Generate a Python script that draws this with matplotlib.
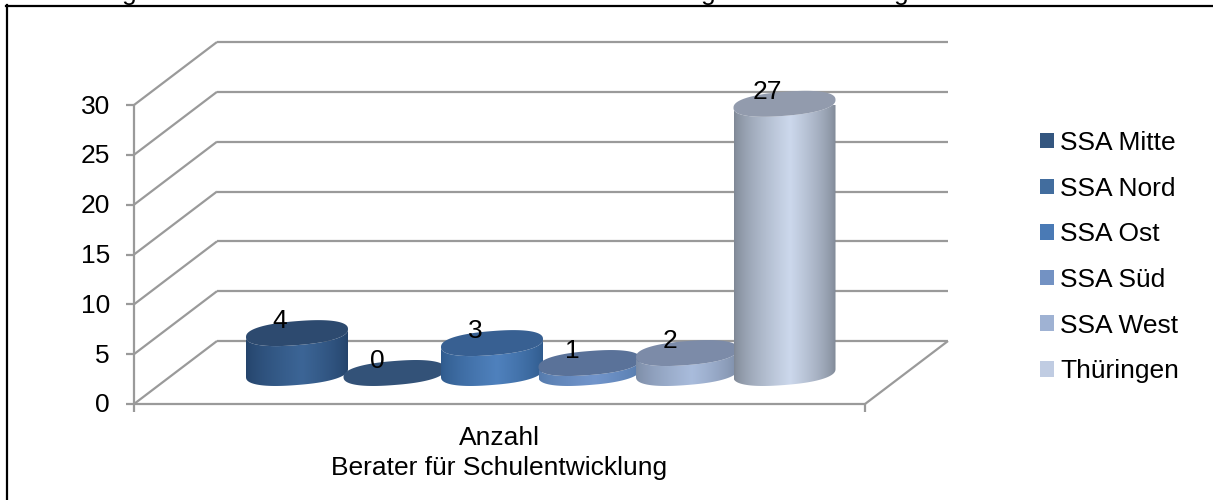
import numpy as np
import matplotlib
matplotlib.use('Agg')
import matplotlib.pyplot as plt
from matplotlib.patches import Patch, PathPatch, Polygon
from matplotlib.path import Path

plt.rcParams['font.family'] = ['Liberation Sans', 'DejaVu Sans']

# data
labels = ['SSA Mitte', 'SSA Nord', 'SSA Ost', 'SSA Süd', 'SSA West', 'Thüringen']
values = [4, 0, 3, 1, 2, 27]
y_ticks = [0, 5, 10, 15, 20, 25, 30]
cat_label = 'Anzahl\nBerater für Schulentwicklung'

# colours per bar
legend_cols = ['#34567f', '#426d9e', '#4a7ab5', '#7392c3', '#9fb2d3', '#c0cce2']
top_cols = ['#2d4a6f', '#335278', '#386092', '#5a7299', '#7c8ba8', '#929bad']
edge_cols = ['#24436a', '#2a4a72', '#2f5a8c', '#547aab', '#7b8ba5', '#7e8795']
mid_cols = ['#3c6596', '#3c6596', '#4f81bd', '#7295cb', '#a9bcdc', '#ccd8ec']

W, H = 1213, 500
FS = 19.0
GRID = '#9a9a9a'

# front plane of the 3d box, in pixels
LEFT, RIGHT, BOTTOM, TOP = 134, 865, 404, 105
DX, DY = 83, 63
BAR_W = 97.5
FIRST = 297 - LEFT
HALF = 51
BASE_PX = 31
B_PX, S_PX = 12, 4

fig = plt.figure(figsize=(W / 100, H / 100), dpi=100)
ax = fig.add_axes([LEFT / W, 1 - BOTTOM / H, (RIGHT - LEFT) / W, (BOTTOM - TOP) / H])
ax.set_xlim(0, RIGHT - LEFT)
ax.set_ylim(0, 30)
ax.axis('off')

upx = 30 / (BOTTOM - TOP)  # value units per pixel
dy = DY * upx
span = RIGHT - LEFT


def grid_line(xs, ys, **kw):
    ax.plot(xs, ys, color=GRID, lw=1.6, clip_on=False, solid_capstyle='butt', zorder=1, **kw)


# walls and floor
for t in y_ticks:
    grid_line([0, DX], [t, t + dy])
    grid_line([DX, span + DX], [t + dy, t + dy])
    grid_line([-8, 0], [t, t])
    ax.text(-24, t - 1.5 * upx, str(t), ha='right', va='center', fontsize=FS, color='black')
grid_line([0, 0], [0, 30])
grid_line([0, span], [0, 0])
grid_line([span, span + DX], [0, dy])
grid_line([0, 0], [0, -8 * upx])
grid_line([span, span], [0, -8 * upx])


def ellipse(cx, cy, t):
    # slightly squared off, the reference discs are fuller than a true ellipse
    c = np.sign(np.cos(t)) * np.abs(np.cos(t)) ** 0.85
    s = np.sign(np.sin(t)) * np.abs(np.sin(t)) ** 0.85
    return (cx + HALF * c, cy + upx * (S_PX * c + B_PX * s))


# cylinders, left to right
for i, v in enumerate(values):
    cx = FIRST + i * BAR_W
    base = BASE_PX * upx
    top = base + v * 9.97 * upx
    z = 3 + i
    if v > 0:
        t = np.linspace(np.pi, 2 * np.pi, 80)
        bx, by = ellipse(cx, base, t)
        tx, ty = ellipse(cx, top, t[::-1])
        verts = np.column_stack([np.r_[bx, tx], np.r_[by, ty]])
        clip = PathPatch(Path(np.vstack([verts, verts[0]]), closed=True), fc='none', ec='none',
                         transform=ax.transData)
        ax.add_patch(clip)
        c0 = np.array(matplotlib.colors.to_rgb(edge_cols[i]))
        c1 = np.array(matplotlib.colors.to_rgb(mid_cols[i]))
        pos = np.linspace(0, 1, 200)
        w = np.where(pos < 0.55, pos / 0.55, (1 - pos) / 0.45) ** 0.7
        img = c0 + (c1 - c0) * w[:, None]
        im = ax.imshow(img[None, :, :], extent=[cx - HALF, cx + HALF, base - 3, top + 3],
                       aspect='auto', zorder=z, interpolation='bilinear')
        im.set_clip_path(clip)
    t = np.linspace(0, 2 * np.pi, 160)
    ex, ey = ellipse(cx, top, t)
    ax.add_patch(Polygon(np.column_stack([ex, ey]), closed=True, fc=top_cols[i], ec='none',
                         zorder=z + 0.5, clip_on=False))
    ax.text(cx - 17, top + 12 * upx, str(v), ha='center', va='center', fontsize=FS,
            color='black', zorder=20, clip_on=False)

ax.set_xlim(0, span)
ax.set_ylim(0, 30)

# category label
fig.text(499 / W, 1 - 453 / H, cat_label, ha='center', va='center', fontsize=FS,
         color='black', linespacing=1.35)

# legend
handles = [Patch(fc=c, ec='none', label=l) for c, l in zip(legend_cols, labels)]
fig.legend(handles=handles, loc='upper left', bbox_to_anchor=(1040 / W, 1 - 131 / H),
           frameon=False, fontsize=FS, borderpad=0, borderaxespad=0, handlelength=0.53,
           handleheight=0.53, handletextpad=0.24, labelspacing=0.82)

# border of the text frame, only top and left are in the crop
fig.add_artist(plt.Line2D([7 / W, 7 / W], [0, 1 - 5 / H], color='black', lw=1.6))
fig.add_artist(plt.Line2D([6 / W, 1], [1 - 6 / H, 1 - 6 / H], color='black', lw=1.6))

# cut off text line above the chart
for x in [129, 708, 901]:
    fig.text(x / W, 1 - 0 / H, 'g', ha='center', va='baseline', fontsize=FS, color='black')

fig.savefig('out.png', dpi=100, facecolor='white')
